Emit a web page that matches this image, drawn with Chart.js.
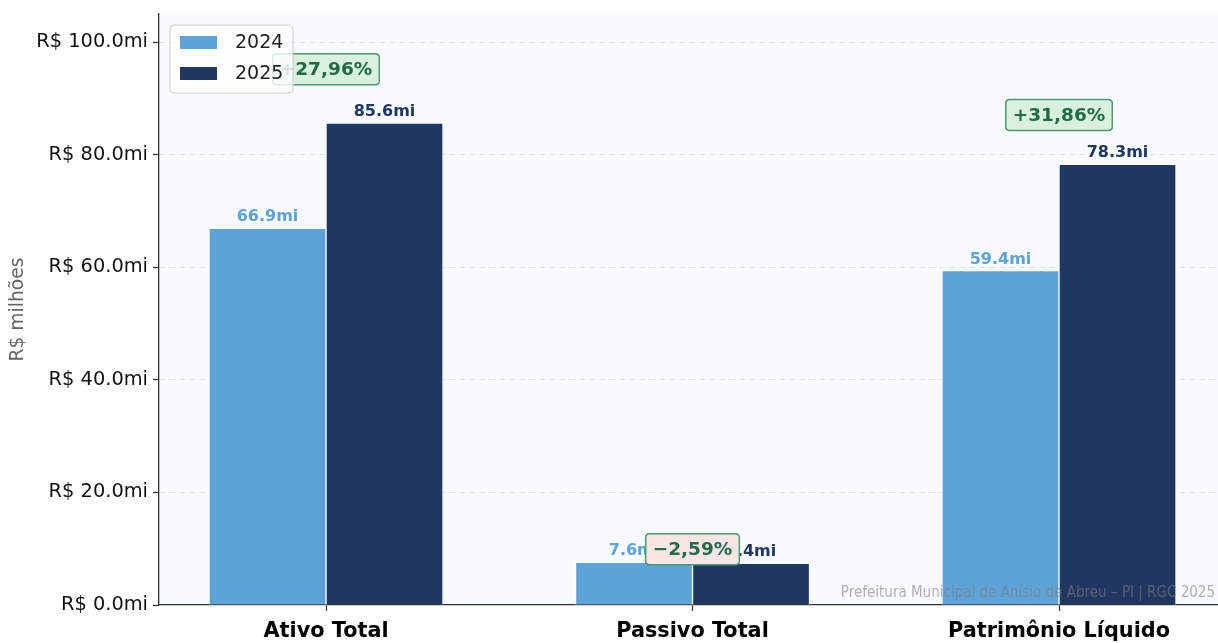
<!DOCTYPE html>
<html>
<head>
<meta charset="utf-8">
<script src="https://cdn.jsdelivr.net/npm/chart.js@4"></script>
<style>
  html, body { margin: 0; padding: 0; background: #ffffff; overflow: hidden; }
  #wrap { width: 1218px; height: 643px; position: relative; }
</style>
</head>
<body>
<div id="wrap"><canvas id="myChart"></canvas></div>
<script>
const categorias = ['Ativo Total', 'Passivo Total', 'Patrimônio Líquido'];
const anos = ['2024', '2025'];
const valores2024 = [66.9, 7.6, 59.4];
const valores2025 = [85.6, 7.4, 78.3];
const variacoes = ['+27,96%', '\u22122,59%', '+31,86%'];
const variacaoPositiva = [true, false, true];
const yTicks = [0, 20, 40, 60, 80, 100];

const corAzulClaro = '#5da3d8';
const corAzulEscuro = '#203762';
const fundoPlot = '#f7faff';
const rodape = 'Prefeitura Municipal de Anísio de Abreu \u2013 PI | RGC 2025';

const fonte = '"DejaVu Sans", "Liberation Sans", sans-serif';

function roundRect(ctx, x, y, w, h, r) {
    ctx.beginPath();
    ctx.moveTo(x + r, y);
    ctx.lineTo(x + w - r, y);
    ctx.quadraticCurveTo(x + w, y, x + w, y + r);
    ctx.lineTo(x + w, y + h - r);
    ctx.quadraticCurveTo(x + w, y + h, x + w - r, y + h);
    ctx.lineTo(x + r, y + h);
    ctx.quadraticCurveTo(x, y + h, x, y + h - r);
    ctx.lineTo(x, y + r);
    ctx.quadraticCurveTo(x, y, x + r, y);
    ctx.closePath();
}

// fundo azulado so na area do grafico
const fundoPlugin = {
    id: 'fundo',
    beforeDraw(chart) {
        const { ctx, chartArea } = chart;
        ctx.save();
        ctx.fillStyle = fundoPlot;
        ctx.fillRect(chartArea.left, chartArea.top, chartArea.right - chartArea.left, chartArea.bottom - chartArea.top);
        ctx.restore();
    }
};

// rotulos das barras, caixas de variacao, legenda e rodape
const extrasPlugin = {
    id: 'extras',
    afterDatasetsDraw(chart) {
        const { ctx, scales } = chart;
        ctx.save();

        // valores em cima das barras
        chart.data.datasets.forEach((ds, di) => {
            const meta = chart.getDatasetMeta(di);
            meta.data.forEach((bar, i) => {
                ctx.font = 'bold 16px ' + fonte;
                ctx.fillStyle = ds.backgroundColor;
                ctx.textAlign = 'center';
                ctx.textBaseline = 'alphabetic';
                ctx.fillText(ds.data[i].y.toFixed(1) + 'mi', bar.x, bar.y - 7);
            });
        });

        // caixas com a variacao percentual
        categorias.forEach((c, i) => {
            const maior = Math.max(valores2024[i], valores2025[i]);
            const yVal = Math.max(maior * 1.112, maior + 2.3);
            const cx = scales.x.getPixelForValue(i);
            const cy = scales.y.getPixelForValue(yVal);
            ctx.font = 'bold 18.5px ' + fonte;
            const w = ctx.measureText(variacoes[i]).width + 14;
            const h = 31;
            roundRect(ctx, cx - w / 2, cy - h / 2, w, h, 4);
            ctx.fillStyle = variacaoPositiva[i] ? '#d9efe0' : '#fbe4e4';
            ctx.fill();
            ctx.lineWidth = 1.5;
            ctx.strokeStyle = '#4e9a6d';
            ctx.stroke();
            ctx.fillStyle = '#1e6b44';
            ctx.textAlign = 'center';
            ctx.textBaseline = 'middle';
            ctx.fillText(variacoes[i], cx, cy + 1);
        });

        // legenda dentro do grafico
        const lx = chart.chartArea.left + 11;
        const ly = chart.chartArea.top + 11;
        roundRect(ctx, lx, ly, 123, 68, 4);
        ctx.fillStyle = 'rgba(255,255,255,0.8)';
        ctx.fill();
        ctx.lineWidth = 1;
        ctx.strokeStyle = '#cccccc';
        ctx.stroke();
        chart.data.datasets.forEach((ds, di) => {
            const rowY = ly + 17.5 + di * 31;
            ctx.fillStyle = ds.backgroundColor;
            ctx.fillRect(lx + 10, rowY - 6.5, 37, 13);
            ctx.fillStyle = '#222222';
            ctx.font = '19px ' + fonte;
            ctx.textAlign = 'left';
            ctx.textBaseline = 'middle';
            ctx.fillText(ds.label, lx + 65, rowY + 1);
        });

        // rodape
        ctx.font = '15px "DejaVu Sans Condensed", ' + fonte;
        ctx.fillStyle = 'rgba(125,125,125,0.6)';
        ctx.textAlign = 'right';
        ctx.textBaseline = 'alphabetic';
        ctx.fillText(rodape, 1215, 597);

        ctx.restore();
    }
};

const ctx = document.getElementById('myChart').getContext('2d');
const myChart = new Chart(ctx, {
    type: 'bar',
    data: {
        datasets: [{
            label: anos[0],
            data: valores2024.map((v, i) => ({ x: i, y: v })),
            backgroundColor: corAzulClaro,
            borderColor: '#ffffff',
            borderWidth: 1,
            barThickness: 117
        }, {
            label: anos[1],
            data: valores2025.map((v, i) => ({ x: i, y: v })),
            backgroundColor: corAzulEscuro,
            borderColor: '#ffffff',
            borderWidth: 1,
            barThickness: 117
        }]
    },
    options: {
        responsive: true,
        maintainAspectRatio: false,
        animation: false,
        layout: { padding: { top: 14, left: 0, right: 0, bottom: 0 } },
        plugins: {
            legend: { display: false },
            tooltip: { enabled: false },
            title: { display: false }
        },
        scales: {
            x: {
                type: 'linear',
                min: -0.4557,
                max: 2.4338,
                offset: false,
                afterBuildTicks: (axis) => {
                    axis.ticks = categorias.map((c, i) => ({ value: i }));
                },
                afterFit: (scale) => {
                    scale.height = 38;
                    scale.paddingLeft = 0;
                    scale.paddingRight = 0;
                },
                ticks: {
                    callback: (v) => categorias[v],
                    color: '#000000',
                    font: { family: fonte, size: 20.8, weight: 'bold' },
                    padding: 8,
                    maxRotation: 0,
                    autoSkip: false
                },
                grid: {
                    offset: false,
                    drawOnChartArea: false,
                    drawTicks: true,
                    tickLength: 6,
                    tickColor: '#333333',
                    tickWidth: 1.2
                },
                border: { display: true, color: '#333333', width: 1.3 }
            },
            y: {
                min: 0,
                max: 105,
                afterBuildTicks: (axis) => {
                    axis.ticks = yTicks.map((v) => ({ value: v }));
                },
                afterFit: (scale) => {
                    scale.width = 159;
                    scale.paddingTop = 0;
                    scale.paddingBottom = 0;
                },
                ticks: {
                    callback: (v) => 'R$ ' + v.toFixed(1) + 'mi',
                    color: '#111111',
                    font: { family: fonte, size: 19.4 },
                    padding: 5
                },
                title: {
                    display: true,
                    text: 'R$ milhões',
                    color: '#666666',
                    font: { family: fonte, size: 18.7 },
                    padding: { top: 7, bottom: 0 }
                },
                grid: {
                    color: (c) => c.tick && c.tick.value === 0 ? 'rgba(0,0,0,0)' : '#dde2ea',
                    lineWidth: 1,
                    drawTicks: true,
                    tickLength: 6,
                    tickColor: '#333333',
                    tickWidth: 1.2,
                    tickBorderDash: []
                },
                border: { display: true, color: '#333333', width: 1.3, dash: [6, 4] }
            }
        }
    },
    plugins: [fundoPlugin, extrasPlugin]
});
</script>
</body>
</html>
